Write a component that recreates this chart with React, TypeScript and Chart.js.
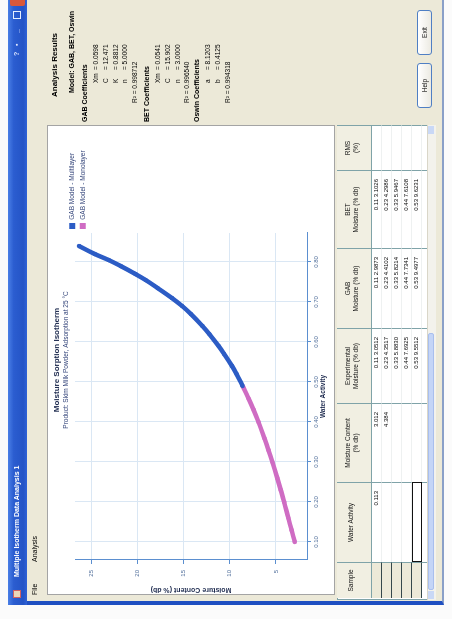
import React, { useEffect, useRef } from "react";
import { Chart, registerables } from "chart.js";

Chart.register(...registerables);

const FONT = "'Liberation Sans', Arial, sans-serif";

// ---- chart data ----
const AW_UPPER = [0.49, 0.52, 0.54, 0.57, 0.59, 0.62, 0.64, 0.67, 0.69, 0.71, 0.735, 0.755, 0.77, 0.79, 0.805, 0.82, 0.84];
const MC_UPPER = [8.6, 9.25, 9.75, 10.6, 11.2, 12.2, 12.95, 14.2, 15.15, 16.25, 17.8, 19.1, 20.2, 21.8, 23.1, 24.6, 26.3];
const AW_LOWER = [0.1, 0.13, 0.16, 0.2, 0.23, 0.26, 0.3, 0.33, 0.36, 0.4, 0.43, 0.46, 0.49];
const MC_LOWER = [2.95, 3.3, 3.65, 4.1, 4.47, 4.85, 5.38, 5.8, 6.25, 6.88, 7.4, 7.98, 8.6];
const AW_TICKS = [0.1, 0.2, 0.3, 0.4, 0.5, 0.6, 0.7, 0.8];
const MC_TICKS = [5, 10, 15, 20, 25];
const SERIES_LABELS = ["GAB Model - Multilayer", "GAB Model - Monolayer"];
const CHART_TITLE = "Moisture Sorption Isotherm";
const CHART_SUBTITLE = "Product: Skim Milk Powder, Adsorption at 25 °C";
const X_TITLE = "Water Activity";
const Y_TITLE = "Moisture Content (% db)";

// ---- window texts ----
const RESULT_GROUPS = [
  { heading: "GAB Coefficients", rows: [["Xm", "0.0598"], ["C", "12.471"], ["K", "0.8812"], ["n", "5.0000"]], summary: "R² = 0.998712" },
  { heading: "BET Coefficients", rows: [["Xm", "0.0541"], ["C", "15.902"], ["n", "3.0000"]], summary: "R² = 0.996540" },
  { heading: "Oswin Coefficients", rows: [["a", "8.1203"], ["b", "0.4125"]], summary: "R² = 0.994318" },
];
const TABLE_HEADERS = [["Sample"], ["Water Activity"], ["Moisture Content", "(% db)"], ["Experimental", "Moisture (% db)"], ["GAB", "Moisture (% db)"], ["BET", "Moisture (% db)"], ["RMS", "(%)"]];
const TABLE_ROWS = [
  ["", "0.113", "3.012", "0.11  3.0512", "0.11  2.9873", "0.11  3.1026", ""],
  ["", "", "4.384", "0.23  4.3517", "0.23  4.4102", "0.23  4.2986", ""],
  ["", "", "", "0.33  5.8830", "0.33  5.8214", "0.33  5.9467", ""],
  ["", "", "", "0.44  7.6925", "0.44  7.7341", "0.44  7.6108", ""],
  ["", "", "", "0.53  9.5512", "0.53  9.4977", "0.53  9.6231", ""],
];

function SorptionChart() {
  const ref = useRef<HTMLCanvasElement>(null);
  useEffect(() => {
    const canvas = ref.current;
    if (!canvas) return;
    const toPts = (xs: number[], ys: number[]) => xs.map((x, i) => ({ x, y: ys[i] }));
    const BLUE = "#2c5cc5";
    const PINK = "#cf6cc3";
    const AXIS = "#5b8fd0";
    const GRID = "#dae7f4";
    const placeLegend = {
      id: "placeLegend",
      afterInit(chart: any) {
        const l = chart.legend;
        if (!l || l.__patched) return;
        const fit = l.fit.bind(l);
        l.fit = () => {
          fit();
          l.width = 107;
        };
        l.__patched = true;
      },
      afterLayout(chart: any) {
        const l = chart.legend;
        if (!l) return;
        const h = l.height;
        l.top = 17;
        l.bottom = 17 + h;
      },
    };
    const chart = new Chart(canvas, {
      type: "scatter",
      data: {
        datasets: [
          {
            label: SERIES_LABELS[0],
            data: toPts(AW_UPPER, MC_UPPER),
            showLine: true,
            tension: 0.4,
            borderColor: BLUE,
            backgroundColor: BLUE,
            borderWidth: 4.5,
            pointRadius: 2.2,
            pointBorderWidth: 0,
          },
          {
            label: SERIES_LABELS[1],
            data: toPts(AW_LOWER, MC_LOWER),
            showLine: true,
            tension: 0.4,
            borderColor: PINK,
            backgroundColor: PINK,
            borderWidth: 4.5,
            pointRadius: 2.2,
            pointBorderWidth: 0,
          },
        ],
      },
      options: {
        responsive: false,
        animation: false,
        layout: { padding: 0 },
        plugins: {
          title: {
            display: true,
            text: CHART_TITLE,
            color: "#1e2b4f",
            font: { family: FONT, size: 8, weight: "bold" },
            padding: { top: 4, bottom: 0 },
          },
          subtitle: {
            display: true,
            text: CHART_SUBTITLE,
            color: "#34457a",
            font: { family: FONT, size: 6.5 },
            padding: { top: 1, bottom: 4.6 },
          },
          legend: {
            position: "right",
            align: "start",
            labels: {
              boxWidth: 6,
              boxHeight: 6,
              padding: 4,
              color: "#34457a",
              font: { family: FONT, size: 6.5 },
              generateLabels: (c: any) =>
                (Chart.defaults.plugins.legend.labels.generateLabels as any)(c).map((it: any) => ({ ...it, lineWidth: 0 })),
            },
          },
          tooltip: { enabled: false },
        },
        scales: {
          x: {
            type: "linear",
            min: 0.055,
            max: 0.8725,
            afterBuildTicks: (s: any) => {
              s.ticks = AW_TICKS.map((v) => ({ value: v }));
            },
            afterFit: (s: any) => {
              s.height = 27;
            },
            ticks: {
              color: "#56739e",
              font: { family: FONT, size: 6 },
              padding: 2,
              maxRotation: 0,
              callback: (v: any) => Number(v).toFixed(2),
            },
            grid: { color: GRID, tickColor: AXIS, tickLength: 4 },
            border: { color: AXIS, width: 1 },
            title: {
              display: true,
              text: X_TITLE,
              color: "#1e2b4f",
              font: { family: FONT, size: 6.5, weight: "bold" },
              padding: { top: 0, bottom: 7 },
            },
          },
          y: {
            type: "linear",
            min: 1.63,
            max: 26.74,
            afterBuildTicks: (s: any) => {
              s.ticks = MC_TICKS.map((v) => ({ value: v }));
            },
            afterFit: (s: any) => {
              s.width = 34;
            },
            ticks: {
              color: "#56739e",
              font: { family: FONT, size: 6 },
              padding: 6,
              callback: (v: any) => String(v),
            },
            grid: { color: GRID, tickColor: AXIS, tickLength: 4 },
            border: { color: AXIS, width: 1 },
            title: {
              display: true,
              text: Y_TITLE,
              color: "#1e2b4f",
              font: { family: FONT, size: 7, weight: "bold" },
              padding: { top: 0, bottom: 0 },
            },
          },
        },
      } as any,
      plugins: [placeLegend],
    });
    return () => chart.destroy();
  }, []);
  return <canvas ref={ref} width={468} height={286} style={{ display: "block", width: 468, height: 286 }} />;
}

const abs = (left: number, top: number, extra: React.CSSProperties = {}): React.CSSProperties => ({
  position: "absolute",
  left,
  top,
  whiteSpace: "nowrap",
  ...extra,
});

function Txt({ x, y, size = 6.5, bold = false, color = "#000", children }: any) {
  return (
    <div style={abs(x, y - size * 0.62, { fontSize: size, lineHeight: `${size * 1.2}px`, fontWeight: bold ? 700 : 400, color })}>
      {children}
    </div>
  );
}

const COL_X = [21, 57, 137, 216, 291, 371, 449, 494];

function DataTable() {
  const top = 337;
  const headH = 35;
  const rowH = 10;
  const grid = "#7fa3a8";
  const cells: React.ReactNode[] = [];
  for (let c = 0; c < COL_X.length - 1; c++) {
    const l = COL_X[c];
    const w = COL_X[c + 1] - COL_X[c];
    const lines = TABLE_HEADERS[c];
    cells.push(
      <div key={"h" + c} style={abs(l, top, { width: w, height: headH, boxSizing: "border-box", borderRight: `1px solid ${grid}`, borderBottom: `1px solid ${grid}`, background: "#f1efe2", fontSize: 6.5, lineHeight: "8px", textAlign: "center", paddingTop: lines.length > 1 ? 7 : 10, color: "#111" })}>
        {lines.map((t, i) => (
          <div key={i}>{t}</div>
        ))}
      </div>
    );
    for (let r = 0; r < TABLE_ROWS.length; r++) {
      const selected = r === TABLE_ROWS.length - 1 && c === 1;
      cells.push(
        <div key={`c${r}-${c}`} style={abs(l, top + headH + r * rowH, { width: w, height: rowH, boxSizing: "border-box", borderRight: `1px solid ${grid}`, borderBottom: c === 0 ? "1px solid #35484c" : "1px solid #eef1f1", background: c === 0 ? "#ece9d8" : "#fff", fontSize: 6, lineHeight: "9px", textAlign: "right", paddingRight: 8, color: "#111", outline: selected ? "1.5px solid #111" : "none", outlineOffset: -1.5 })}>
          {TABLE_ROWS[r][c]}
        </div>
      );
    }
  }
  const bodyBottom = top + headH + TABLE_ROWS.length * rowH;
  return (
    <>
      <div style={abs(19, top, { width: 475, height: 98, background: "#fff", border: `1px solid ${grid}`, boxSizing: "border-box" })} />
      {cells}
      {COL_X.slice(1, -1).map((x, i) => (
        <div key={"v" + i} style={abs(x - 1, bodyBottom, { width: 1, height: 427 - bodyBottom, background: grid })} />
      ))}
      <div style={abs(19, 427, { width: 475, height: 8, background: "#f3f2ec", borderTop: "1px solid #d9d6c8" })} />
      <div style={abs(29, 428, { width: 257, height: 6, background: "#c4d5f7", border: "1px solid #a9bfee", boxSizing: "border-box", borderRadius: 2 })} />
      <div style={abs(20, 428, { width: 8, height: 6, background: "#c9d8f6" })} />
      <div style={abs(485, 428, { width: 8, height: 6, background: "#c9d8f6" })} />
    </>
  );
}

function Win() {
  return (
    <div style={{ position: "fixed", left: 0, top: 0, width: 619, height: 452, overflow: "hidden", background: "#fbfbfb", transformOrigin: "0 0", transform: "translate(0px, 619px) rotate(-90deg)", fontFamily: FONT }}>
      {/* window body */}
      <div style={abs(14, 8, { width: 620, height: 436, background: "#ece9d8", borderLeft: "4px solid #1f4fc2", borderBottom: "2px solid #8aa0c8", boxSizing: "border-box" })} />
      {/* title bar */}
      <div style={abs(14, 8, { width: 620, height: 19, background: "linear-gradient(to bottom, #4a7fe6 0%, #2b5dd0 30%, #2454c6 80%, #2f62d6 100%)" })} />
      <div style={abs(21, 13, { width: 8, height: 8, background: "#e9d7b8", border: "1px solid #d06060", boxSizing: "border-box" })} />
      <Txt x={42} y={17.5} size={7} bold color="#ffffff">Multiple Isotherm Data Analysis 1</Txt>
      <Txt x={563} y={17.5} size={7} bold color="#dfe8ff">?</Txt>
      <Txt x={573} y={17.5} size={7} bold color="#dfe8ff">▪</Txt>
      <Txt x={586} y={17.5} size={7} bold color="#dfe8ff">_</Txt>
      <div style={abs(600, 13, { width: 8, height: 8, border: "1px solid #e6eeff", boxSizing: "border-box" })} />
      <div style={abs(613, 10, { width: 16, height: 15, background: "#d9583a", borderRadius: 2 })} />
      {/* menu */}
      <Txt x={24} y={35} size={7}>File</Txt>
      <Txt x={57} y={35} size={7}>Analysis</Txt>
      {/* chart panel */}
      <div style={abs(24, 47, { width: 470, height: 288, background: "#fff", border: "1px solid #a4a4a4", boxSizing: "border-box" })}>
        <div style={{ position: "absolute", left: 0, top: 0 }}>
          <SorptionChart />
        </div>
      </div>
      {/* results panel */}
      <Txt x={522} y={55} size={8} bold>Analysis Results</Txt>
      <Txt x={526} y={72} size={7} bold>Model: GAB, BET, Oswin</Txt>
      {(() => {
        const out: React.ReactNode[] = [];
        const headY = [85, 147, 197];
        RESULT_GROUPS.forEach((g, gi) => {
          out.push(
            <Txt key={"g" + gi} x={497} y={headY[gi]} size={7} bold>
              {g.heading}
            </Txt>
          );
          g.rows.forEach((r, ri) => {
            const y = headY[gi] + 11.5 + ri * 9.6;
            out.push(
              <Txt key={`l${gi}-${ri}`} x={536} y={y} size={6.5}>
                {r[0]}
              </Txt>
            );
            out.push(
              <Txt key={`v${gi}-${ri}`} x={549} y={y} size={6.5}>
                = {r[1]}
              </Txt>
            );
          });
          out.push(
            <Txt key={"s" + gi} x={516} y={headY[gi] + 11.5 + g.rows.length * 9.6} size={6.5}>
              {g.summary}
            </Txt>
          );
        });
        return out;
      })()}
      {/* buttons */}
      {[["Help", 511], ["Exit", 564]].map(([t, x]) => (
        <div key={t as string} style={abs(x as number, 417, { width: 45, height: 15, boxSizing: "border-box", border: "1px solid #4f7fc4", borderRadius: 3, background: "linear-gradient(#ffffff, #eceae2)", fontSize: 6.5, lineHeight: "13px", textAlign: "center", color: "#111" })}>
          {t}
        </div>
      ))}
      <DataTable />
    </div>
  );
}

export default function App() {
  return <Win />;
}
